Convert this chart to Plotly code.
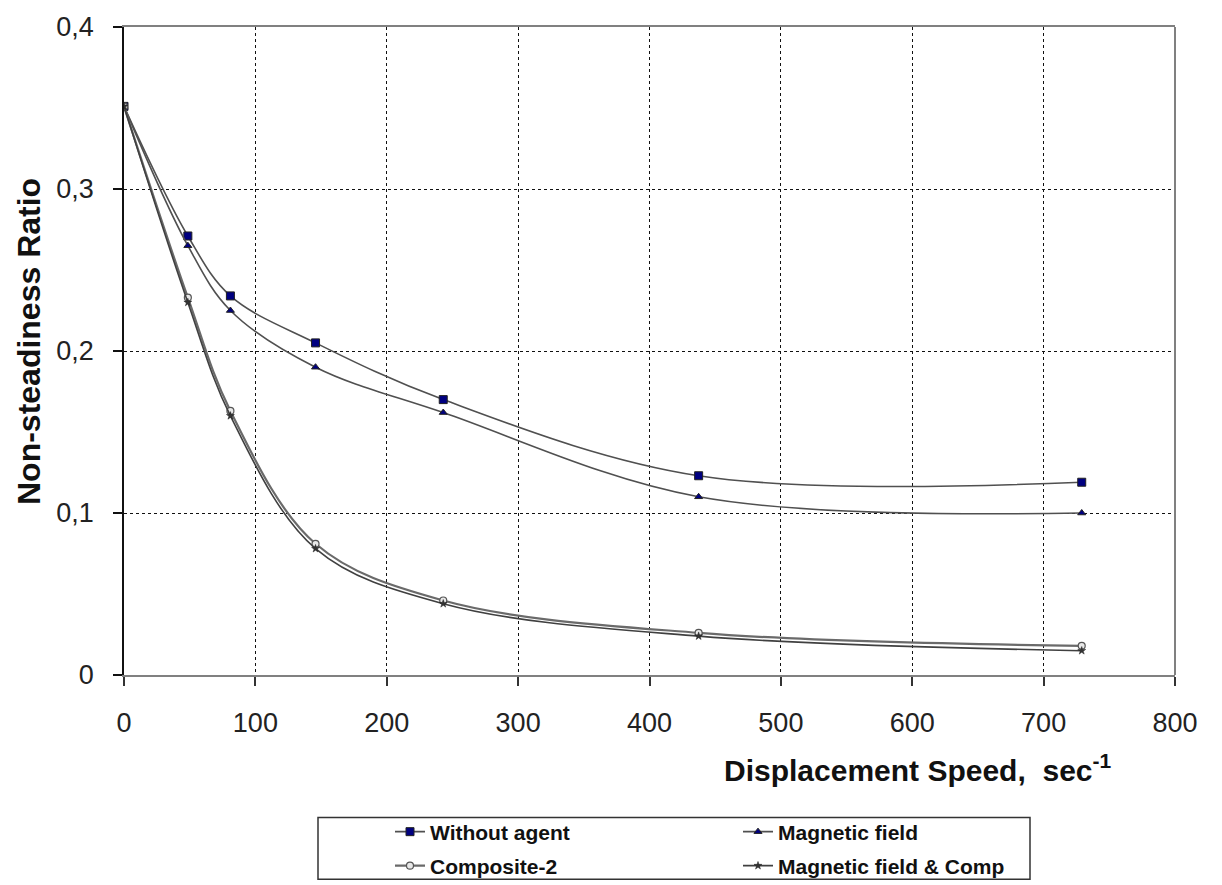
import plotly.graph_objects as go

# ---- data ----
speed = [0, 48.6, 81, 145.8, 243, 437.4, 729]
without_agent = [0.351, 0.271, 0.234, 0.205, 0.170, 0.123, 0.119]
magnetic_field = [0.351, 0.265, 0.225, 0.190, 0.162, 0.110, 0.100]
composite_2 = [0.351, 0.233, 0.163, 0.081, 0.046, 0.026, 0.018]
mag_comp = [0.351, 0.230, 0.160, 0.078, 0.044, 0.024, 0.015]

series_names = ["Without agent", "Magnetic field", "Composite-2", "Magnetic field & Comp"]

x_ticks = [0, 100, 200, 300, 400, 500, 600, 700, 800]
y_ticks = [0, 0.1, 0.2, 0.3, 0.4]
y_ticktext = ["0", "0,1", "0,2", "0,3", "0,4"]

W, H = 1222, 885
ML, MR, MT, MB = 124, 47, 25, 210
PW, PH = W - ML - MR, H - MT - MB


def px2paper_x(px):
    return (px - ML) / PW


def px2paper_y(py):
    return (H - MB - py) / PH


FONT = "Liberation Sans, Arial, sans-serif"

fig = go.Figure()

styles = [
    dict(line=dict(color="#505050", width=1.6), marker=dict(symbol="square", size=8, color="#000080", line=dict(color="#222", width=1))),
    dict(line=dict(color="#505050", width=1.6), marker=dict(symbol="triangle-up", size=7, color="#000080", line=dict(color="#222", width=1))),
    dict(line=dict(color="#6a6a6a", width=2.2), marker=dict(symbol="circle", size=7, color="#e8e8e8", line=dict(color="#555", width=1.2))),
    dict(line=dict(color="#404040", width=1.6), marker=dict(symbol="star", size=6, color="#333", line=dict(color="#222", width=0.5))),
]
data = [without_agent, magnetic_field, composite_2, mag_comp]
legend_ids = ["legend", "legend2", "legend3", "legend4"]

for name, ys, st, lg in zip(series_names, data, styles, legend_ids):
    fig.add_trace(go.Scatter(
        x=speed, y=ys, name=name, mode="lines+markers",
        line=dict(shape="spline", smoothing=1.0, **st["line"]),
        marker=st["marker"], legend=lg, showlegend=True,
    ))

legend_font = dict(family=FONT, size=21, color="#111", weight="bold")
leg_pos = [(390, 832), (738, 832), (390, 866), (738, 866)]
legend_layouts = {}
for lg, (lx, ly) in zip(legend_ids, leg_pos):
    legend_layouts[lg] = dict(
        xref="container", yref="container",
        x=lx / W, y=1 - ly / H, xanchor="left", yanchor="middle",
        bgcolor="rgba(0,0,0,0)", borderwidth=0, font=legend_font,
        orientation="h",
    )

fig.update_layout(
    width=W, height=H,
    margin=dict(l=ML, r=MR, t=MT, b=MB),
    paper_bgcolor="white", plot_bgcolor="white",
    font=dict(family=FONT, color="#222"),
    **legend_layouts,
)

fig.update_xaxes(
    range=[0, 800], tickvals=x_ticks,
    showgrid=True, gridcolor="#111", griddash="dot", gridwidth=1,
    zeroline=False,
    showline=True, linecolor="#808080", linewidth=2, mirror=True,
    ticks="outside", ticklen=9, tickcolor="#333", tickwidth=1.5,
    tickfont=dict(family=FONT, size=27, color="#222"),
    ticklabelstandoff=14,
)
fig.update_yaxes(
    range=[0, 0.4], tickvals=y_ticks, ticktext=y_ticktext,
    showgrid=True, gridcolor="#111", griddash="dot", gridwidth=1,
    zeroline=False,
    showline=True, linecolor="#111", linewidth=1.5, mirror=False,
    ticks="outside", ticklen=9, tickcolor="#111", tickwidth=1.5,
    tickfont=dict(family=FONT, size=27, color="#222"),
    ticklabelstandoff=14,
)

# right frame edge (gray) to match the chart border
fig.add_shape(type="line", xref="paper", yref="paper", x0=1, x1=1, y0=0, y1=1,
              line=dict(color="#808080", width=2))

# legend border box
fig.add_shape(type="rect", xref="paper", yref="paper",
              x0=px2paper_x(318), x1=px2paper_x(1030),
              y0=px2paper_y(880), y1=px2paper_y(818),
              line=dict(color="#333", width=1.5))

# axis titles
fig.add_annotation(text="Displacement Speed,  sec<sup>-1</sup>", xref="paper", yref="paper",
                   x=px2paper_x(917), y=px2paper_y(768), xanchor="center", yanchor="middle",
                   showarrow=False, font=dict(family=FONT, size=30, color="#111", weight="bold"))
fig.add_annotation(text="Non-steadiness Ratio", xref="paper", yref="paper",
                   x=px2paper_x(29), y=px2paper_y(341), xanchor="center", yanchor="middle",
                   textangle=-90, showarrow=False,
                   font=dict(family=FONT, size=32, color="#111", weight="bold"))

fig.write_html("out.html")
